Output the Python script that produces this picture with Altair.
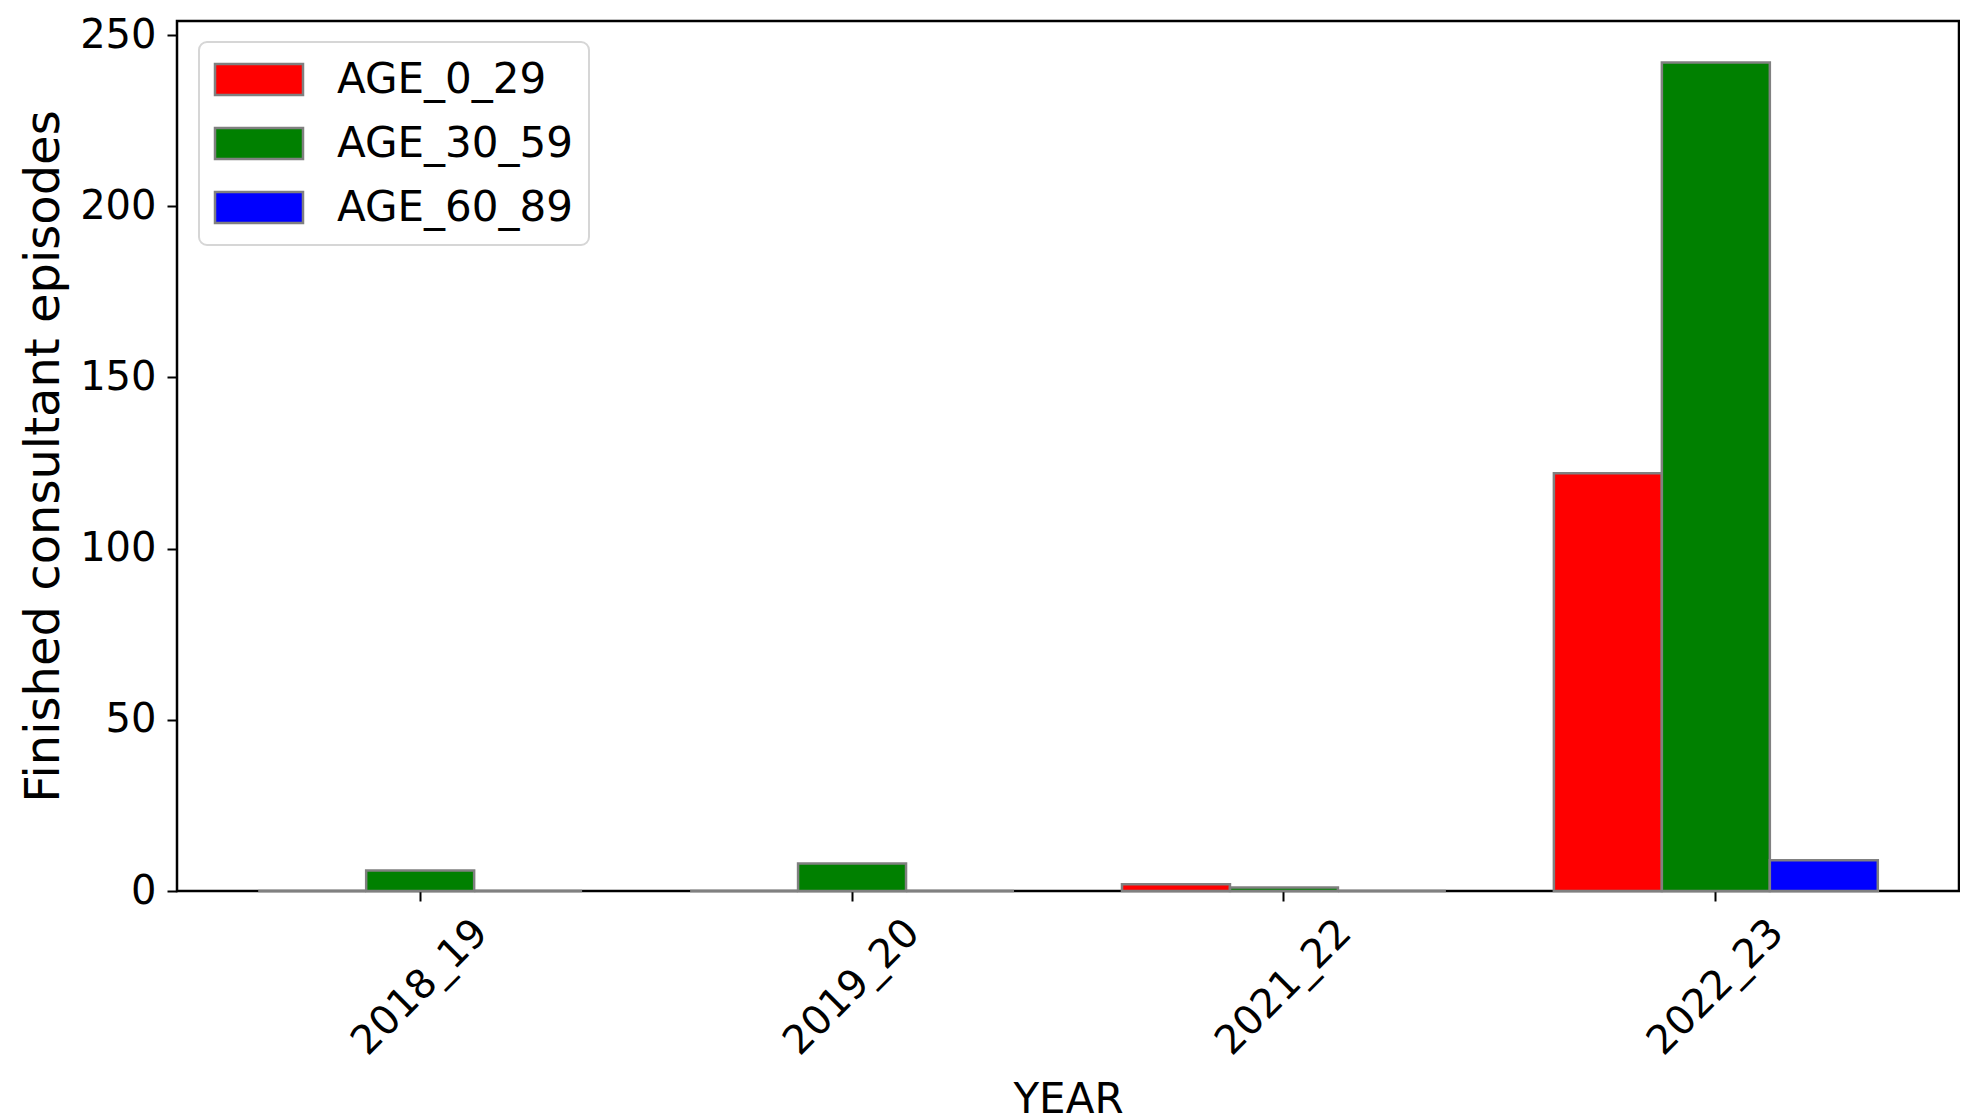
import altair as alt
import pandas as pd

years = ["2018_19", "2019_20", "2021_22", "2022_23"]
age_groups = ["AGE_0_29", "AGE_30_59", "AGE_60_89"]
age_0_29 = [0, 0, 2, 122]
age_30_59 = [6, 8, 1, 242]
age_60_89 = [0, 0, 0, 9]
colors = ["#ff0000", "#008000", "#0000ff"]
y_ticks = [0, 50, 100, 150, 200, 250]

rows = []
for grp, vals in zip(age_groups, [age_0_29, age_30_59, age_60_89]):
    for yr, v in zip(years, vals):
        rows.append({"YEAR": yr, "AGE": grp, "value": v})
df = pd.DataFrame(rows)

FONT = "DejaVu Sans"
# wide rectangle swatch (88 x 31 px at symbolSize 1600)
rect_path = "M-2.2,-0.775L2.2,-0.775L2.2,0.775L-2.2,0.775Z"

chart = alt.Chart(df).mark_bar(stroke="#808080", strokeWidth=2.5).encode(
    x=alt.X("YEAR:N", sort=years,
            scale=alt.Scale(paddingInner=0.25, paddingOuter=0.188),
            axis=alt.Axis(title="YEAR", labelAngle=-45, labelAlign="center",
                          labelBaseline="middle", labelPadding=86, tickSize=10,
                          tickWidth=2, tickColor="black", labelFontSize=40,
                          titleFontSize=42, titleFontWeight="normal",
                          titleBaseline="alphabetic", titleY=221, domain=False,
                          labelColor="black", titleColor="black", labelFont=FONT,
                          titleFont=FONT)),
    xOffset=alt.XOffset("AGE:N", sort=age_groups),
    y=alt.Y("value:Q", scale=alt.Scale(domain=[0, 254.1], nice=False),
            axis=alt.Axis(title="Finished consultant episodes", values=y_ticks,
                          grid=False, tickSize=10, tickWidth=2, tickColor="black",
                          labelPadding=11, labelFontSize=40, titleFontSize=48,
                          titleFontWeight="normal", titleBaseline="alphabetic",
                          titleX=-119, titleY=435, titleAngle=-90, titleAlign="center",
                          domain=False, labelColor="black", titleColor="black",
                          labelFont=FONT, titleFont=FONT)),
    color=alt.Color("AGE:N", sort=age_groups,
                    scale=alt.Scale(domain=age_groups, range=colors),
                    legend=alt.Legend(title=None, orient="none", legendX=22, legendY=21,
                                      symbolType=rect_path, symbolSize=1600,
                                      symbolOffset=22.5,
                                      symbolStrokeColor="#808080", symbolStrokeWidth=2.5,
                                      symbolOpacity=1,
                                      labelFontSize=42, labelFont=FONT, labelColor="black",
                                      labelLimit=600,
                                      labelOffset=56.5, padding=16, rowPadding=21,
                                      strokeColor="#d6d6d6", fillColor="white",
                                      cornerRadius=8)),
).properties(
    width=1782,
    height=870,
    title=alt.Title("Split by age", fontSize=46, font=FONT, fontWeight="normal",
                    baseline="alphabetic", offset=8, color="black"),
    autosize=alt.AutoSizeParams(type="none"),
    padding={"left": 169, "top": 13, "right": 1, "bottom": 228},
).configure_view(
    stroke="black", strokeWidth=2.5
).configure_legend(
    strokeWidth=2
)

chart.save("out.html", embed_options={"renderer": "svg", "actions": False})
